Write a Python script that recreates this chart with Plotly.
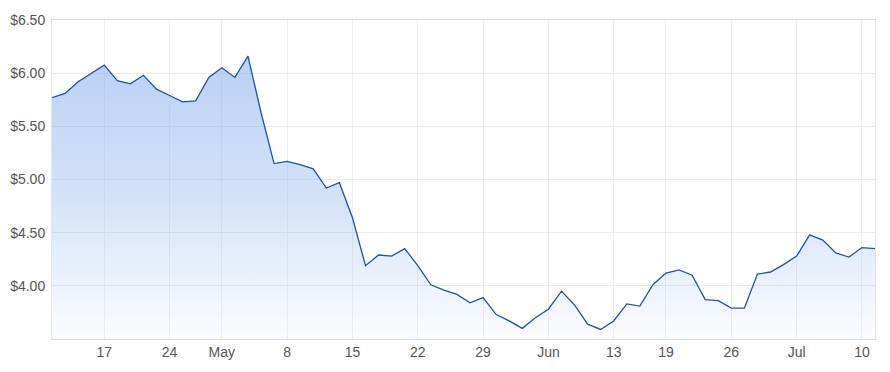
import plotly.graph_objects as go

dates = [
    "2023-04-11", "2023-04-12", "2023-04-13", "2023-04-14",
    "2023-04-17", "2023-04-18", "2023-04-19", "2023-04-20", "2023-04-21",
    "2023-04-24", "2023-04-26", "2023-04-27", "2023-04-28",
    "2023-05-01", "2023-05-02", "2023-05-03", "2023-05-04", "2023-05-05",
    "2023-05-08", "2023-05-09", "2023-05-10", "2023-05-11", "2023-05-12",
    "2023-05-15", "2023-05-16", "2023-05-17", "2023-05-18", "2023-05-19",
    "2023-05-22", "2023-05-23", "2023-05-24", "2023-05-25", "2023-05-26",
    "2023-05-29", "2023-05-30", "2023-05-31", "2023-06-01", "2023-06-02",
    "2023-06-05", "2023-06-06", "2023-06-07", "2023-06-08", "2023-06-09",
    "2023-06-13", "2023-06-14", "2023-06-15", "2023-06-16",
    "2023-06-19", "2023-06-20", "2023-06-21", "2023-06-22", "2023-06-23",
    "2023-06-26", "2023-06-27", "2023-06-28", "2023-06-29", "2023-06-30",
    "2023-07-03", "2023-07-04", "2023-07-05", "2023-07-06", "2023-07-07",
    "2023-07-10", "2023-07-11",
]

prices = [
    5.77, 5.81, 5.92, 6.00,
    6.075, 5.93, 5.90, 5.98, 5.85,
    5.79, 5.73, 5.74, 5.96,
    6.05, 5.96, 6.16, 5.63, 5.15,
    5.17, 5.14, 5.10, 4.92, 4.97,
    4.64, 4.19, 4.29, 4.28, 4.35,
    4.19, 4.01, 3.96, 3.92, 3.84,
    3.89, 3.73, 3.67, 3.60, 3.70,
    3.78, 3.95, 3.82, 3.64, 3.59,
    3.67, 3.83, 3.81, 4.01,
    4.12, 4.15, 4.10, 3.87, 3.86,
    3.79, 3.79, 4.11, 4.13, 4.20,
    4.28, 4.48, 4.43, 4.31, 4.27,
    4.36, 4.35,
]

tick_dates = ["2023-04-17", "2023-04-24", "2023-05-01", "2023-05-08", "2023-05-15",
              "2023-05-22", "2023-05-29", "2023-06-05", "2023-06-13", "2023-06-19",
              "2023-06-26", "2023-07-03", "2023-07-10"]
tick_labels = ["17", "24", "May", "8", "15", "22", "29", "Jun", "13", "19", "26", "Jul", "10"]

y_ticks = [4.0, 4.5, 5.0, 5.5, 6.0, 6.5]
y_tick_labels = ["$4.00", "$4.50", "$5.00", "$5.50", "$6.00", "$6.50"]

fig = go.Figure()
fig.add_trace(go.Scatter(
    x=dates, y=prices, mode="lines",
    line=dict(color="#2350a8", width=1.3),
    fill="tozeroy",
    fillgradient=dict(
        type="vertical",
        start=3.5, stop=6.16,
        colorscale=[[0, "rgba(120,165,235,0.03)"],
                    [0.5, "rgba(120,165,235,0.32)"],
                    [1, "rgba(120,165,235,0.52)"]],
    ),
    hoverinfo="skip",
))

font_family = "Liberation Sans, Arial, sans-serif"
fig.update_layout(
    width=890, height=372,
    margin=dict(l=52, r=15, t=20, b=33),
    paper_bgcolor="white", plot_bgcolor="white",
    showlegend=False,
    font=dict(family=font_family, size=14, color="#555555"),
)
fig.update_xaxes(
    type="category",
    range=[0, len(dates) - 1],
    tickmode="array", tickvals=tick_dates, ticktext=tick_labels,
    showgrid=True, gridcolor="#efefef", gridwidth=1,
    showline=True, linecolor="#dcdcdc", linewidth=1, mirror=True,
    ticks="", tickfont=dict(size=14, color="#555555"),
    zeroline=False, automargin=False,
)
fig.update_yaxes(
    range=[3.5, 6.5],
    tickmode="array", tickvals=y_ticks, ticktext=y_tick_labels,
    showgrid=True, gridcolor="#ebebeb", gridwidth=1,
    showline=True, linecolor="#e6e6e6", linewidth=1, mirror=True,
    ticks="", ticklabelstandoff=3,
    tickfont=dict(size=14, color="#555555"),
    zeroline=False, automargin=False,
)

fig.write_html("out.html")
